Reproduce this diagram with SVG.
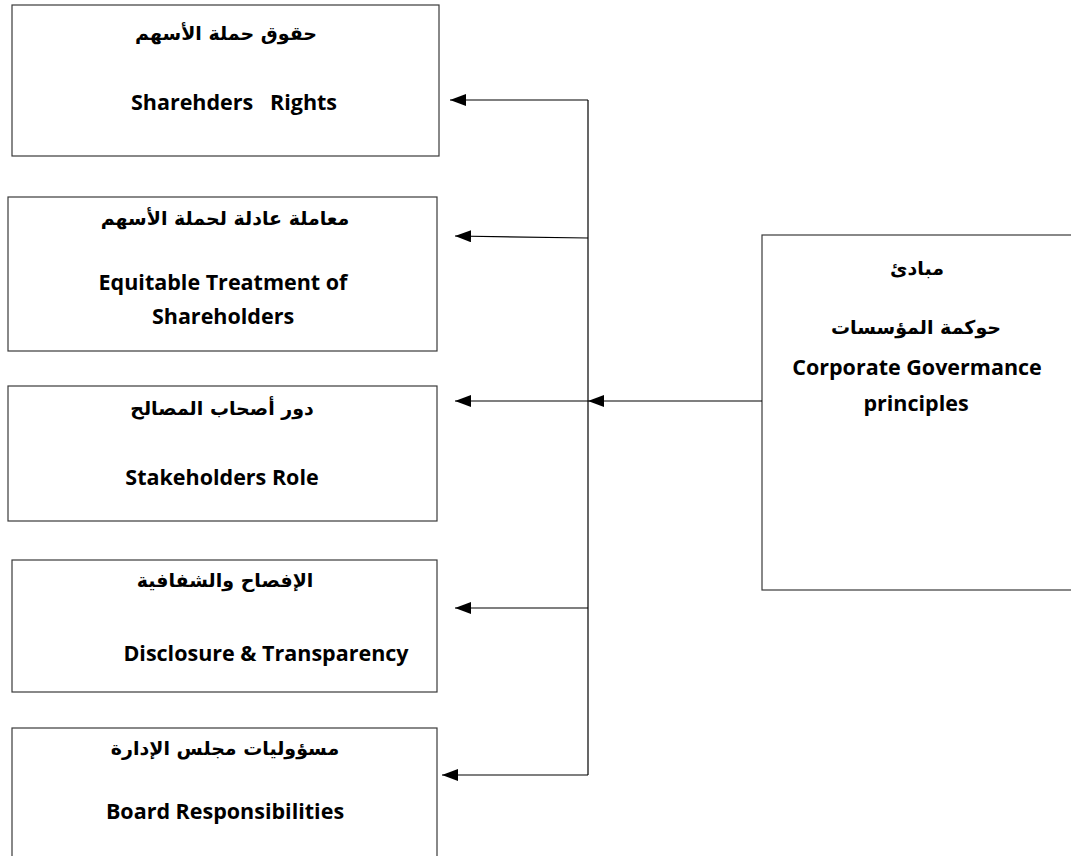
<svg xmlns="http://www.w3.org/2000/svg" width="1071" height="856" viewBox="0 0 1071 856">
<style>
.box{fill:#fff;stroke:#3a3a3a;stroke-width:1.2}
.ar{font-family:"DejaVu Sans","Liberation Sans",sans-serif;font-weight:bold;font-size:19px;fill:#000;text-anchor:middle}
.en{font-family:"Open Sans","Liberation Sans",sans-serif;font-weight:bold;font-size:21.5px;fill:#000;text-anchor:middle}
.ln{stroke:#000;stroke-width:1.2;fill:none}
</style>
<defs>
<marker id="ah" markerWidth="16" markerHeight="12" refX="16" refY="6" orient="auto" markerUnits="userSpaceOnUse">
<path d="M16,6 L0,0 L0,12 Z" fill="#000"/>
</marker>
</defs>
<rect width="1071" height="856" fill="#fff"/>
<g id="node-rights">
<rect class="box" x="12" y="5" width="427" height="151"/>
<text class="ar" x="226" y="40" direction="rtl">حقوق حملة الأسهم</text>
<text class="en" x="234" y="110" xml:space="preserve">Sharehders   Rights</text>
</g>
<g id="node-equitable">
<rect class="box" x="8" y="197" width="429" height="154"/>
<text class="ar" x="225" y="225" direction="rtl">معاملة عادلة لحملة الأسهم</text>
<text class="en" x="223" y="290">Equitable Treatment of</text>
<text class="en" x="223" y="324">Shareholders</text>
</g>
<g id="node-stakeholders">
<rect class="box" x="8" y="386" width="429" height="135"/>
<text class="ar" x="222" y="415" direction="rtl">دور أصحاب المصالح</text>
<text class="en" x="222" y="485">Stakeholders Role</text>
</g>
<g id="node-disclosure">
<rect class="box" x="12" y="560" width="425" height="132"/>
<text class="ar" x="225" y="587" direction="rtl">الإفصاح والشفافية</text>
<text class="en" x="266" y="661">Disclosure &amp; Transparency</text>
</g>
<g id="node-board">
<rect class="box" x="12" y="728" width="425" height="140"/>
<text class="ar" x="225" y="755" direction="rtl">مسؤوليات مجلس الإدارة</text>
<text class="en" x="225" y="819">Board Responsibilities</text>
</g>
<g id="node-principles">
<rect class="box" x="762" y="235" width="320" height="355"/>
<text class="ar" x="917" y="275" direction="rtl">مبادئ</text>
<text class="ar" x="916" y="334" direction="rtl">حوكمة المؤسسات</text>
<text class="en" x="917" y="375">Corporate Govermance</text>
<text class="en" x="916" y="411">principles</text>
</g>
<g id="connectors">
<line class="ln" x1="588" y1="100" x2="588" y2="775"/>
<line class="ln" x1="762" y1="401" x2="588" y2="401" marker-end="url(#ah)"/>
<line class="ln" x1="588" y1="100" x2="450" y2="100" marker-end="url(#ah)"/>
<line class="ln" x1="588" y1="238" x2="455" y2="236" marker-end="url(#ah)"/>
<line class="ln" x1="588" y1="401" x2="455" y2="401" marker-end="url(#ah)"/>
<line class="ln" x1="588" y1="608" x2="455" y2="608" marker-end="url(#ah)"/>
<line class="ln" x1="588" y1="775" x2="442" y2="775" marker-end="url(#ah)"/>
</g>
</svg>
